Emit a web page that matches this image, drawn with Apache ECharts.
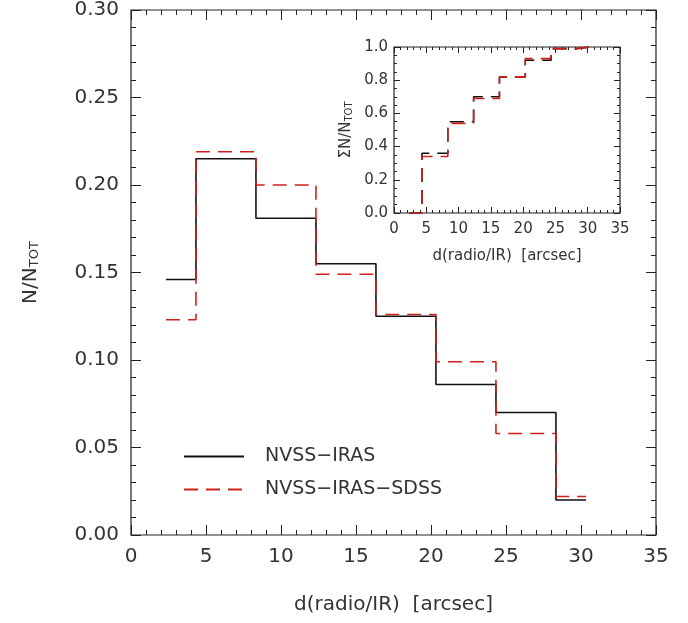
<!DOCTYPE html>
<html>
<head>
<meta charset="utf-8">
<script src="https://cdn.jsdelivr.net/npm/echarts@6/dist/echarts.min.js"></script>
<style>html,body{margin:0;background:#fff}#chart{width:688px;height:623px}</style>
</head>
<body>
<div id="chart"></div>
<script>
// bin left edges, last value is the right edge of the final bin
var binEdges = [2.33, 4.33, 8.33, 12.33, 16.33, 20.33, 24.33, 28.33, 30.33];
var fracIras = [0.146, 0.215, 0.181, 0.155, 0.125, 0.086, 0.070, 0.020];
var fracSdss = [0.123, 0.219, 0.200, 0.149, 0.126, 0.099, 0.058, 0.022];
var cumIras = [0.0, 0.36, 0.55, 0.70, 0.82, 0.92, 0.99, 1.0];
var cumSdss = [0.0, 0.34, 0.54, 0.69, 0.82, 0.93, 0.99, 1.0];

function steps(vals) {
  var d = vals.map(function (v, i) { return [binEdges[i], v]; });
  d.push([binEdges[binEdges.length - 1], vals[vals.length - 1]]);
  return d;
}

var font = 'DejaVu Sans';
var txt = '#333';
var chart = echarts.init(document.getElementById('chart'));

function ax(grid, pos, show, size, max, step, minorSplit, major, minorLen, fmt) {
  return {
    type: 'value', gridIndex: grid, position: pos, min: 0, max: max, interval: step,
    axisLine: { show: false, onZero: false },
    axisTick: { show: true, inside: true, length: major, lineStyle: { color: '#222' } },
    minorTick: { show: true, splitNumber: minorSplit, length: minorLen, lineStyle: { color: '#222' } },
    axisLabel: { show: show, color: txt, fontFamily: font, fontSize: size, margin: 12,
      formatter: function (v) { return fmt == null ? String(v) : v.toFixed(fmt); } },
    splitLine: { show: false }
  };
}

var xAxes = [ax(0, 'bottom', true, 20, 35, 5, 5, 10, 5), ax(0, 'top', false, 20, 35, 5, 5, 10, 5),
             ax(1, 'bottom', true, 15, 35, 5, 5, 6, 3), ax(1, 'top', false, 15, 35, 5, 5, 6, 3)];
var yAxes = [ax(0, 'left', true, 20, 0.3, 0.05, 5, 10, 5, 2), ax(0, 'right', false, 20, 0.3, 0.05, 5, 10, 5, 2),
             ax(1, 'left', true, 15, 1.0, 0.2, 4, 6, 3, 1), ax(1, 'right', false, 15, 1.0, 0.2, 4, 6, 3, 1)];

xAxes[0].name = 'd(radio/IR)  [arcsec]'; xAxes[0].nameLocation = 'middle'; xAxes[0].nameGap = 60;
xAxes[0].nameTextStyle = { fontSize: 20, fontFamily: font, color: txt };
xAxes[2].name = 'd(radio/IR)  [arcsec]'; xAxes[2].nameLocation = 'middle'; xAxes[2].nameGap = 36;
xAxes[2].nameTextStyle = { fontSize: 15, fontFamily: font, color: txt };
xAxes[2].axisLabel.margin = 9;
yAxes[2].axisLabel.margin = 6;

yAxes[0].name = '{n|N/N}{s|TOT}';
yAxes[0].nameLocation = 'middle'; yAxes[0].nameGap = 90;
yAxes[0].nameTextStyle = { rich: { n: { fontSize: 20, fontFamily: font, color: txt }, s: { fontSize: 13, fontFamily: font, color: txt, verticalAlign: 'bottom', padding: [8, 0, 0, 0] } } };
yAxes[2].name = '{n|ΣN/N}{s|TOT}';
yAxes[2].nameLocation = 'middle'; yAxes[2].nameGap = 40;
yAxes[2].nameTextStyle = { rich: { n: { fontSize: 15, fontFamily: font, color: txt }, s: { fontSize: 10, fontFamily: font, color: txt, verticalAlign: 'bottom', padding: [6, 0, 0, 0] } } };

function line(name, x, y, data, color, dashed) {
  return { name: name, type: 'line', xAxisIndex: x, yAxisIndex: y, data: data, step: 'end',
    symbol: 'none', silent: true,
    lineStyle: { color: color, width: 1.6, type: dashed ? [14, 8] : 'solid' }, itemStyle: { color: color } };
}

chart.setOption({
  animation: false,
  grid: [
    { left: 131, right: 32, top: 10, bottom: 88, outerBoundsMode: 'none', show: true, borderColor: '#222', borderWidth: 1.2 },
    { left: 394, width: 226, top: 47, height: 166, outerBoundsMode: 'none', show: true, borderColor: '#222', borderWidth: 1.2 }
  ],
  legend: {
    orient: 'vertical', left: 178, top: 442, itemWidth: 60, itemGap: 14, itemHeight: 14,
    itemStyle: { opacity: 0 },
    textStyle: { fontSize: 19, fontFamily: font, color: txt, padding: [0, 0, 0, 16] },
    data: ['NVSS−IRAS', 'NVSS−IRAS−SDSS']
  },
  xAxis: xAxes,
  yAxis: yAxes,
  series: [
    line('NVSS−IRAS', 0, 0, steps(fracIras), '#111', false),
    line('NVSS−IRAS−SDSS', 0, 0, steps(fracSdss), '#d0201a', true),
    line('cumIras', 2, 2, steps(cumIras), '#111', true),
    line('cumSdss', 2, 2, steps(cumSdss), '#d0201a', true)
  ]
});
</script>
</body>
</html>
